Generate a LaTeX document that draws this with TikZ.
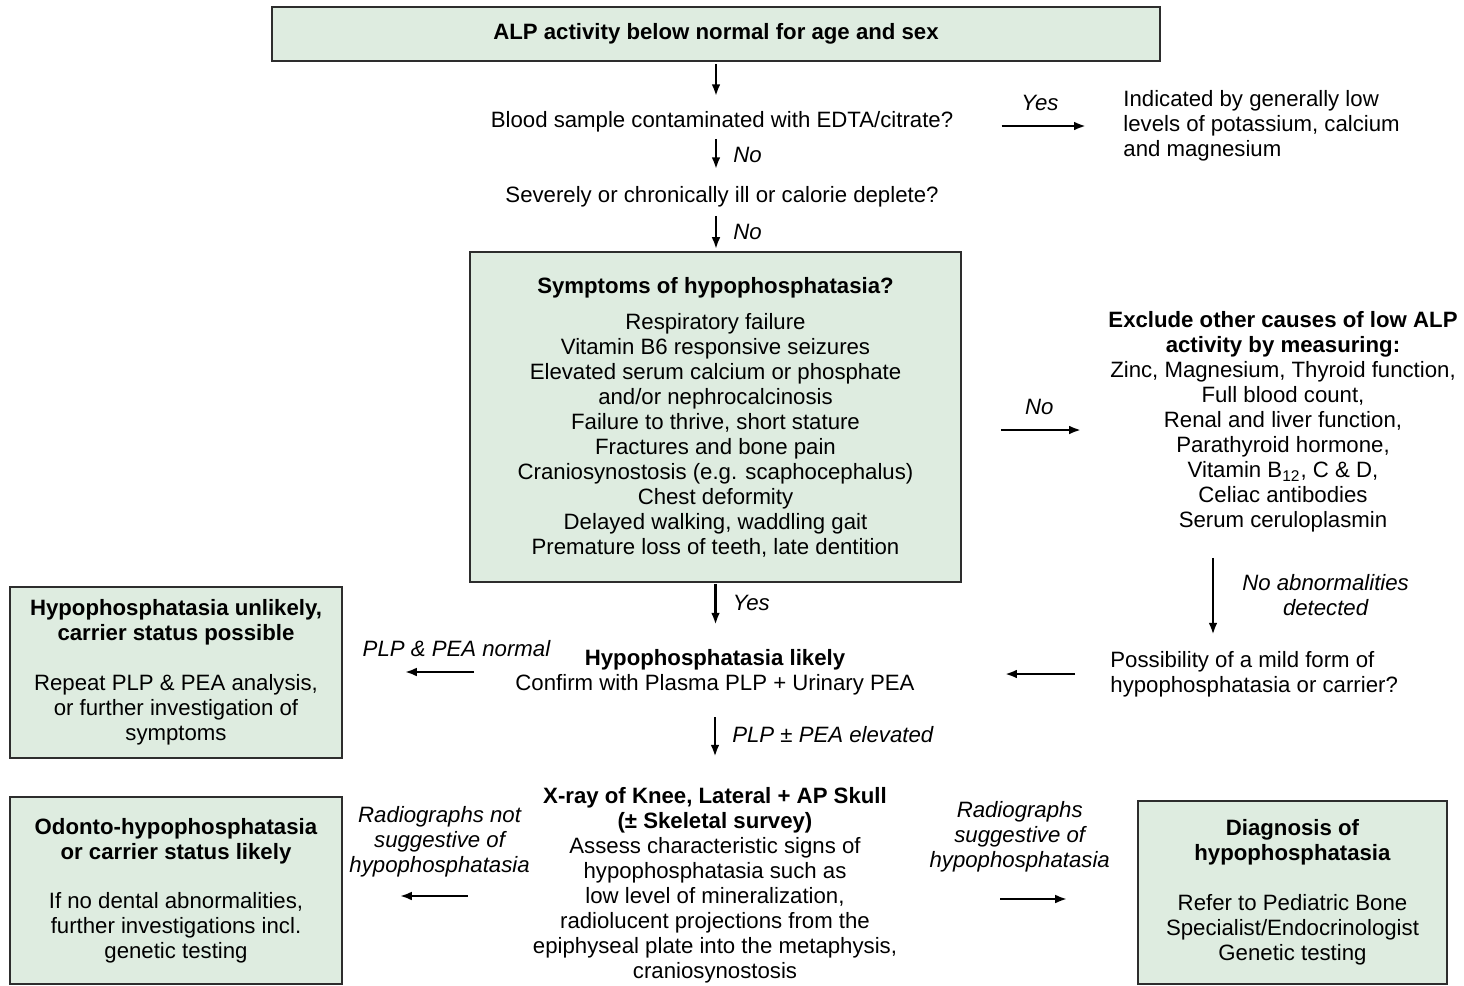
\documentclass[tikz,border=0pt]{standalone}
\usepackage{fontspec}
\setmainfont{Liberation Sans}
\usetikzlibrary{arrows.meta}

\definecolor{boxgreen}{RGB}{222,236,224}
\definecolor{boxline}{RGB}{45,45,45}

\tikzset{
	every node/.style={font=\fontsize{11.1}{12.5}\selectfont},
	txt/.style={inner sep=0pt, align=center},
	lbl/.style={inner sep=0pt, align=center, font=\fontsize{11.1}{12.5}\selectfont\itshape},
	gbox/.style={draw=boxline, fill=boxgreen, line width=0.8pt, align=center, inner sep=0pt},
	arr/.style={line width=1.3pt, -{Latex[length=6pt,width=4.4pt]}}
}

\begin{document}
\begin{tikzpicture}[x=0.5pt, y=-0.5pt]

	\useasboundingbox (0,0) rectangle (1464,986);

	\node[gbox, minimum width=444pt, minimum height=27pt] (top) at (716,34) {\textbf{ALP activity below normal for age and sex}};
	\node[txt] (blood) at (722,122) {Blood sample contaminated with EDTA/citrate?};
	\node[txt, anchor=west, align=left] (ind) at (1123,126) {Indicated by generally low\\levels of potassium, calcium\\and magnesium};
	\node[txt] (sev) at (722,197) {Severely or chronically ill or calorie deplete?};

	\node[gbox, minimum width=245.5pt, minimum height=165pt] (sym) at (715.5,417) {\textbf{Symptoms of hypophosphatasia?}\\[5.5pt]
		Respiratory failure\\Vitamin B6 responsive seizures\\Elevated serum calcium or phosphate\\and/or nephrocalcinosis\\
		Failure to thrive, short stature\\Fractures and bone pain\\Craniosynostosis (e.g. scaphocephalus)\\
		Chest deformity\\Delayed walking, waddling gait\\Premature loss of teeth, late dentition};

	\node[txt] (exc) at (1283,422) {\textbf{Exclude other causes of low ALP}\\\textbf{activity by measuring:}\\
		Zinc, Magnesium, Thyroid function,\\Full blood count,\\Renal and liver function,\\Parathyroid hormone,\\
		Vitamin B\textsubscript{12}, C \& D,\\Celiac antibodies\\Serum ceruloplasmin};
	\node[txt, anchor=west, align=left] (poss) at (1110,674) {Possibility of a mild form of\\hypophosphatasia or carrier?};

	\node[txt] (likely) at (715,672) {\textbf{Hypophosphatasia likely}\\Confirm with Plasma PLP + Urinary PEA};
	\node[gbox, minimum width=166pt, minimum height=85.5pt] (unlik) at (176,672.5) {\textbf{Hypophosphatasia unlikely,}\\\textbf{carrier status possible}\\[12.5pt]
		Repeat PLP \& PEA analysis,\\or further investigation of\\symptoms};

	\node[txt] (xray) at (715,885) {\textbf{X-ray of Knee, Lateral + AP Skull}\\\textbf{(± Skeletal survey)}\\
		Assess characteristic signs of\\hypophosphatasia such as\\low level of mineralization,\\
		radiolucent projections from the\\epiphyseal plate into the metaphysis,\\craniosynostosis};
	\node[gbox, minimum width=166pt, minimum height=93.5pt] (odonto) at (176,890.5) {\textbf{Odonto-hypophosphatasia}\\\textbf{or carrier status likely}\\[12pt]
		If no dental abnormalities,\\further investigations incl.\\genetic testing};
	\node[gbox, minimum width=154.5pt, minimum height=91.5pt] (diag) at (1292.5,892.5) {\textbf{Diagnosis of}\\\textbf{hypophosphatasia}\\[12.5pt]
		Refer to Pediatric Bone\\Specialist/Endocrinologist\\Genetic testing};

	\draw[arr, shorten <=1pt, shorten >=7.5pt] (top.south) -- (top.south |- blood.north);
	\draw[arr, shorten <=3pt, shorten >=8.5pt] (blood.south -| top.south) -- node[lbl, right=8pt, pos=0.42] {No} (sev.north -| top.south);
	\draw[arr, shorten <=4pt, shorten >=1pt] (sev.south -| top.south) -- node[lbl, right=8pt, pos=0.56] {No} (sym.north -| top.south);
	\draw[arr, shorten <=24pt, shorten >=18.5pt] (blood.east |- ind.west) -- node[lbl, above=7pt, pos=0.51] {Yes} (ind.west);
	\draw[arr, shorten <=19.5pt, shorten >=13.5pt] ([yshift=-4pt]exc.west -| sym.east) -- node[lbl, above=7pt, pos=0.53] {No} ([yshift=-4pt]exc.west);
	\draw[arr, shorten <=12.5pt, shorten >=8pt] ([xshift=-35pt]exc.south) -- node[lbl, right=14pt, pos=0.53] {No abnormalities\\detected} ([xshift=-35pt]exc.south |- poss.north);
	\draw[arr, shorten <=17.5pt, shorten >=45pt] (poss.west) -- (poss.west -| likely.east);
	\draw[arr, shorten <=0.5pt, shorten >=12pt] (sym.south) -- node[lbl, right=8pt, pos=0.3] {Yes} (sym.south |- likely.north);
	\draw[arr, shorten <=20.5pt, shorten >=31pt] (likely.west) -- node[lbl, above=7pt, pos=0.34] {PLP \& PEA normal} (likely.west -| unlik.east);
	\draw[arr, shorten <=11pt, shorten >=15pt] (likely.south) -- node[lbl, right=8pt, pos=0.43] {PLP ± PEA elevated} (likely.south |- xray.north);
	\draw[arr, shorten <=32.5pt, shorten >=28.5pt] ([yshift=-5.5pt]xray.west) -- node[lbl, above=9pt, pos=0.49] {Radiographs not\\suggestive of\\hypophosphatasia} ([yshift=-5.5pt]xray.west -| odonto.east);
	\draw[arr, shorten <=51.5pt, shorten >=35pt] ([yshift=-7pt]xray.east) -- node[lbl, above=13pt, pos=0.51] {Radiographs\\suggestive of\\hypophosphatasia} ([yshift=-7pt]xray.east -| diag.west);

\end{tikzpicture}
\end{document}
